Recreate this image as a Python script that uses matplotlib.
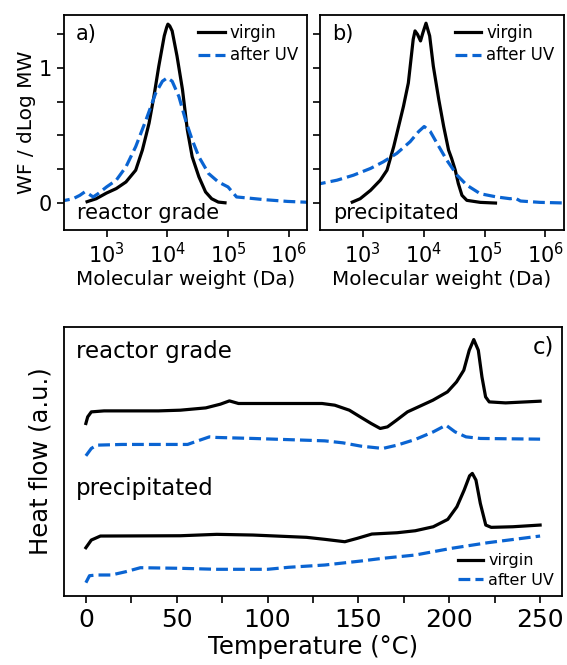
import numpy as np
import matplotlib
matplotlib.use("Agg")
import matplotlib.pyplot as plt
from matplotlib.ticker import MultipleLocator, LogLocator, NullFormatter

BLUE = "#0a64d2"

# GPC, panel a (reactor grade) -- log10(MW) and WF/dLogMW
a_vir_logm = [2.68, 2.83, 3.0, 3.16, 3.32, 3.48, 3.59, 3.65, 3.70, 3.78, 3.86, 3.95, 3.99, 4.01,
              4.04, 4.08, 4.16, 4.25, 4.33, 4.41, 4.52, 4.63, 4.73, 4.84, 4.95]
a_vir_wf = [0.01, 0.032, 0.074, 0.107, 0.156, 0.243, 0.392, 0.50, 0.591, 0.789, 1.012, 1.236,
            1.30, 1.323, 1.31, 1.273, 1.087, 0.839, 0.541, 0.342, 0.194, 0.082, 0.032, 0.007,
            0.002]
a_uv_logm = [2.2, 2.32, 2.45, 2.56, 2.64, 2.70, 2.78, 2.86, 3.0, 3.16, 3.32, 3.48, 3.65, 3.81,
             3.92, 4.0, 4.08, 4.19, 4.30, 4.41, 4.52, 4.68, 4.84, 5.0, 5.14, 5.33, 5.6, 5.98, 6.35]
a_uv_wf = [0.02, 0.02, 0.032, 0.057, 0.082, 0.069, 0.045, 0.069, 0.119, 0.169, 0.268, 0.417,
           0.615, 0.814, 0.901, 0.926, 0.901, 0.789, 0.615, 0.467, 0.342, 0.218, 0.156, 0.119,
           0.045, 0.037, 0.025, 0.012, 0.005]

# GPC, panel b (precipitated)
b_vir_logm = [2.83, 2.96, 3.13, 3.29, 3.40, 3.51, 3.59, 3.67, 3.75, 3.83, 3.86, 3.90, 3.95,
              3.99, 4.04, 4.10, 4.16, 4.25, 4.33, 4.41, 4.46, 4.52, 4.57, 4.63, 4.71, 4.93, 5.18]
b_vir_wf = [0.007, 0.032, 0.094, 0.169, 0.243, 0.417, 0.566, 0.715, 0.888, 1.211, 1.273, 1.248,
            1.199, 1.261, 1.33, 1.236, 1.012, 0.764, 0.566, 0.392, 0.33, 0.243, 0.144, 0.057,
            0.02, 0.005, 0.0]
b_uv_logm = [2.2, 2.31, 2.58, 2.85, 3.13, 3.34, 3.56, 3.78, 3.92, 4.01, 4.11, 4.22, 4.38, 4.55,
             4.71, 4.93, 5.2, 5.42, 5.5, 5.59, 5.91, 6.35]
b_uv_wf = [0.14, 0.144, 0.169, 0.206, 0.256, 0.305, 0.367, 0.454, 0.529, 0.566, 0.529, 0.442,
           0.318, 0.206, 0.132, 0.069, 0.045, 0.032, 0.037, 0.015, 0.005, 0.0]

# DSC, panel c -- temperature (C) and heat flow (a.u., curves offset)
rv_T = [0, 1, 3, 10, 40, 52, 66, 74, 79, 84, 100, 130, 137, 145, 151, 157, 162, 166, 171, 177,
        183, 191, 199, 204, 208, 211, 213.5, 216, 218, 220, 222, 231, 250]
rv_h = [1.727, 1.793, 1.843, 1.853, 1.853, 1.86, 1.883, 1.92, 1.953, 1.927, 1.927, 1.927, 1.91,
        1.86, 1.793, 1.727, 1.677, 1.693, 1.76, 1.843, 1.893, 1.96, 2.043, 2.143, 2.26, 2.46,
        2.567, 2.46, 2.193, 1.993, 1.943, 1.933, 1.95]
ru_T = [0, 3, 6, 20, 56, 60, 68, 72, 92, 131.5, 141.5, 151.4, 163.4, 171.3, 181.3, 191.2, 198.2,
        203.2, 209.2, 217.1, 250]
ru_h = [1.403, 1.477, 1.51, 1.517, 1.517, 1.543, 1.593, 1.587, 1.577, 1.553, 1.533, 1.5, 1.477,
        1.51, 1.567, 1.643, 1.71, 1.643, 1.593, 1.577, 1.57]
pv_T = [0, 3, 8, 52, 72, 92, 121.5, 131.5, 142.5, 149.4, 157.4, 171.3, 181.3, 191.2, 199.2,
        204.2, 208.2, 211.2, 212.7, 214.7, 217.1, 220.1, 223.1, 235, 250]
pv_h = [0.483, 0.56, 0.6, 0.603, 0.617, 0.61, 0.587, 0.567, 0.543, 0.577, 0.62, 0.633, 0.653,
        0.693, 0.767, 0.893, 1.06, 1.203, 1.227, 1.16, 0.927, 0.71, 0.687, 0.693, 0.71]
pu_T = [0, 2, 6, 14, 22, 30, 52, 72, 100, 111.5, 131.5, 151.4, 163.4, 181.3, 201.2, 221.1, 250]
pu_h = [0.133, 0.203, 0.21, 0.21, 0.243, 0.283, 0.277, 0.267, 0.267, 0.287, 0.31, 0.35, 0.377,
        0.41, 0.477, 0.533, 0.6]

fig = plt.figure(figsize=(5.67, 6.65), dpi=100)
ax_a = fig.add_axes([0.113, 0.654, 0.4286, 0.3233])
ax_b = fig.add_axes([0.5644, 0.654, 0.430, 0.3233])
ax_c = fig.add_axes([0.113, 0.1038, 0.878, 0.4045])

gpc = [(ax_a, a_vir_logm, a_vir_wf, a_uv_logm, a_uv_wf, "a)", "reactor grade"),
       (ax_b, b_vir_logm, b_vir_wf, b_uv_logm, b_uv_wf, "b)", "precipitated")]
for ax, vx, vy, ux, uy, tag, name in gpc:
    ax.plot(10 ** np.array(vx), vy, color="black", lw=2.3, label="virgin")
    ax.plot(10 ** np.array(ux), uy, color=BLUE, lw=2.3, ls="--", label="after UV")
    ax.set_xscale("log")
    ax.set_xlim(200, 2e6)
    ax.set_ylim(-0.2, 1.39)
    ax.xaxis.set_major_locator(LogLocator(base=10, numticks=10))
    ax.xaxis.set_minor_locator(LogLocator(base=10, subs=[], numticks=10))
    ax.yaxis.set_major_locator(MultipleLocator(1))
    ax.yaxis.set_minor_locator(MultipleLocator(0.25))
    ax.tick_params(which="both", length=5, width=1.2, labelsize=15)
    ax.set_xlabel("Molecular weight (Da)", fontsize=14.3, labelpad=2)
    ax.text(0.05, 0.91, tag, transform=ax.transAxes, fontsize=15, va="center")
    ax.text(0.055, 0.08, name, transform=ax.transAxes, fontsize=15, va="center")
    ax.legend(loc="upper right", frameon=False, fontsize=12, handlelength=1.6,
              handletextpad=0.3, borderaxespad=0.15, labelspacing=0.25)
    for s in ax.spines.values():
        s.set_linewidth(1.3)

ax_a.set_ylabel("WF / dLog MW", fontsize=14.5, labelpad=2)
ax_b.yaxis.set_major_formatter(NullFormatter())

ax_c.plot(rv_T, rv_h, color="black", lw=2.3)
ax_c.plot(ru_T, ru_h, color=BLUE, lw=2.3, ls="--")
ax_c.plot(pv_T, pv_h, color="black", lw=2.3, label="virgin")
ax_c.plot(pu_T, pu_h, color=BLUE, lw=2.3, ls="--", label="after UV")
ax_c.set_xlim(-12, 262)
ax_c.set_ylim(0, 2.693)
ax_c.set_yticks([])
ax_c.xaxis.set_major_locator(MultipleLocator(50))
ax_c.xaxis.set_minor_locator(MultipleLocator(25))
ax_c.tick_params(which="both", length=5, width=1.2, labelsize=18)
ax_c.set_xlabel("Temperature (°C)", fontsize=17.5, labelpad=2)
ax_c.set_ylabel("Heat flow (a.u.)", fontsize=17.5, labelpad=8)
ax_c.text(0.023, 0.907, "reactor grade", transform=ax_c.transAxes, fontsize=16.5, va="center")
ax_c.text(0.023, 0.40, "precipitated", transform=ax_c.transAxes, fontsize=16.5, va="center")
ax_c.text(0.985, 0.926, "c)", transform=ax_c.transAxes, fontsize=16.5, va="center", ha="right")
ax_c.legend(loc="lower right", frameon=False, fontsize=11.5, handlelength=1.6,
            handletextpad=0.3, borderaxespad=0.1, labelspacing=0.3)
for s in ax_c.spines.values():
    s.set_linewidth(1.3)

fig.savefig("out.png", dpi=100)
